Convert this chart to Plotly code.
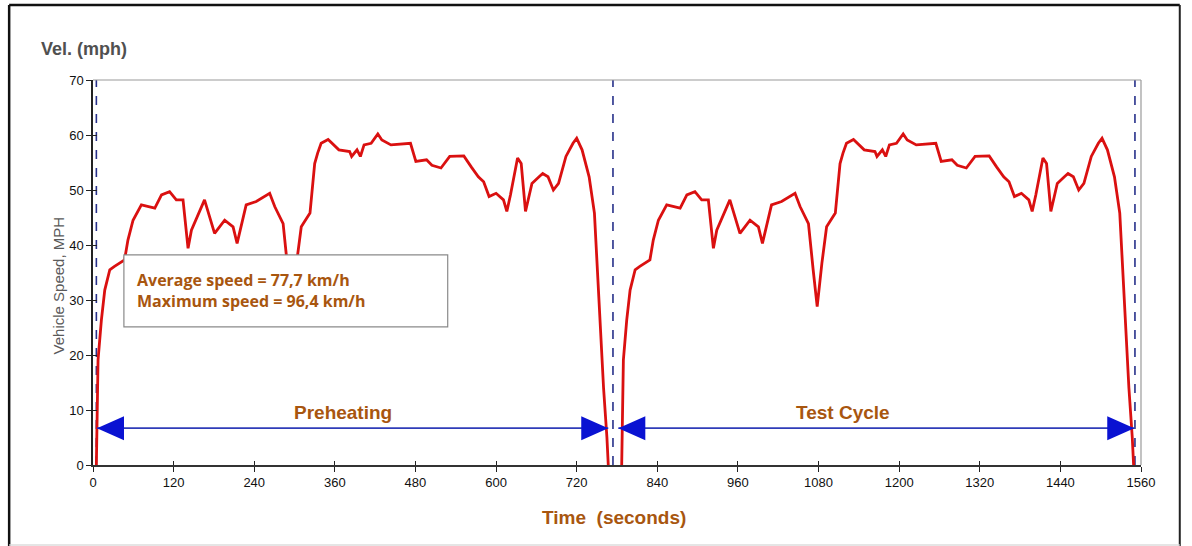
import plotly.graph_objects as go

# ---- data: one HWFET-like speed cycle (relative seconds, mph), driven twice ----
cycle_t = [0, 2, 4.5, 9.5, 14.5, 22, 29, 44, 49, 56.6, 69, 89, 99, 111, 121, 131, 138.5, 143.5,
           163, 178, 193, 205.5, 211.5, 225, 240, 260, 267.5, 280, 287, 293, 300, 307, 320, 327,
           331.4, 336.6, 347, 363, 379, 382, 390, 395, 400.5, 411, 421, 427, 440.5, 469.6, 477.6,
           493.5, 501.5, 515, 528, 549, 560, 570.6, 578.5, 586.6, 597, 608, 613, 618.4, 629,
           634.4, 640.8, 650.4, 661, 666.4, 674.3, 682.3, 690, 701, 711.5, 717, 725, 735.5,
           743.4, 747, 751.4, 757, 762, 764]
cycle_v = [0, 0, 19.1, 26.4, 31.8, 35.5, 36.1, 37.3, 40.9, 44.5, 47.3, 46.7, 49.1, 49.7, 48.2, 48.2,
           39.4, 42.7, 48.2, 42.1, 44.5, 43.3, 40.3, 47.3, 47.9, 49.4, 47.0, 43.9, 35.5, 28.8,
           36.7, 43.3, 45.8, 54.8, 56.7, 58.5, 59.2, 57.3, 57.0, 56.1, 57.3, 56.1, 58.2, 58.5,
           60.2, 59.1, 58.2, 58.5, 55.2, 55.5, 54.5, 54.0, 56.1, 56.2, 54.2, 52.4, 51.5, 48.8,
           49.4, 48.2, 46.1, 49.1, 55.8, 54.8, 46.1, 51.2, 52.4, 53.0, 52.4, 50.0, 51.2, 56.1,
           58.5, 59.4, 57.3, 52.4, 45.8, 37.3, 28.2, 14.0, 5.0, 0]
run_starts = [3, 785]          # s, start of preheating run and test-cycle run
run_names = ["Preheating", "Test Cycle"]

phase_bounds = [5, 774, 1551]          # dashed separators (s)
arrow_spans = [(6, 767), (782, 1550)]  # arrow tips (s)
arrow_speed = 6.7                      # mph
label_pos = [(372, 9.6), (1116, 9.6)]

x_ticks = list(range(0, 1561, 120))
y_ticks = list(range(0, 71, 10))

BROWN = "#A8560F"
NAVY = "#27308A"
BLUE = "#0A12D2"

fig = go.Figure()

for k, t0 in enumerate(run_starts):
    fig.add_trace(go.Scatter(
        x=[t0 + t for t in cycle_t], y=cycle_v, mode="lines",
        line=dict(color="#DA1010", width=2.8), name=run_names[k], showlegend=False,
        hoverinfo="skip"))

# invisible trace for the overlay axes (crossing tick marks)
fig.add_trace(go.Scatter(x=[0], y=[0], xaxis="x2", yaxis="y2", mode="markers",
                         marker=dict(opacity=0), showlegend=False, hoverinfo="skip"))

shapes = []
for b in phase_bounds:
    shapes.append(dict(type="line", x0=b, x1=b, y0=0, y1=70, xref="x", yref="y",
                       line=dict(color=NAVY, width=1.6, dash="dash"), layer="below"))
for a, b in arrow_spans:
    shapes.append(dict(type="line", x0=a, x1=b, y0=arrow_speed, y1=arrow_speed,
                       xref="x", yref="y", line=dict(color="#2F3CB8", width=1.6)))
    shapes.append(dict(type="path", xref="x", yref="y", xsizemode="pixel", ysizemode="pixel",
                       xanchor=a, yanchor=arrow_speed,
                       path="M0,0 L27,12 L27,-12 Z", fillcolor=BLUE, line=dict(width=0)))
    shapes.append(dict(type="path", xref="x", yref="y", xsizemode="pixel", ysizemode="pixel",
                       xanchor=b, yanchor=arrow_speed,
                       path="M0,0 L-27,12 L-27,-12 Z", fillcolor=BLUE, line=dict(width=0)))

# info box
shapes.append(dict(type="rect", xref="x", yref="y", x0=46, x1=528, y0=25.1, y1=38.2,
                   fillcolor="white", line=dict(color="#8A8A8A", width=1.2), layer="above"))
# outer frame
shapes.append(dict(type="line", xref="paper", yref="paper", x0=-0.080, x1=1.037, y0=1.195, y1=1.195,
                   line=dict(color="#111", width=2.5)))
shapes.append(dict(type="line", xref="paper", yref="paper", x0=-0.080, x1=-0.080, y0=-0.215, y1=1.195,
                   line=dict(color="#111", width=2.5)))
shapes.append(dict(type="line", xref="paper", yref="paper", x0=1.037, x1=1.037, y0=-0.215, y1=1.195,
                   line=dict(color="#222", width=2)))
shapes.append(dict(type="line", xref="paper", yref="paper", x0=-0.080, x1=1.037, y0=-0.208, y1=-0.208,
                   line=dict(color="#DDDDDD", width=1.5)))

annotations = []
for (lx, ly), name in zip(label_pos, run_names):
    annotations.append(dict(x=lx, y=ly, xref="x", yref="y", text=f"<b>{name}</b>", showarrow=False,
                            font=dict(family="Liberation Sans, Arial", size=19, color=BROWN)))
annotations.append(dict(x=62, y=31.7, xref="x", yref="y", xanchor="left", yanchor="middle",
                        align="left", showarrow=False,
                        text="<b>Average speed = 77,7 km/h</b><br><b>Maximum speed = 96,4 km/h</b>",
                        font=dict(family="Open Sans", size=16, color=BROWN)))
annotations.append(dict(x=0.497, y=-0.169, xref="paper", yref="paper", showarrow=False,
                        text="<b>Time  (seconds)</b>",
                        font=dict(family="Liberation Sans, Arial", size=19, color=BROWN)))
annotations.append(dict(x=-0.0515, y=1.112, xref="paper", yref="paper", xanchor="left",
                        showarrow=False, text="<b>Vel. (mph)</b>",
                        font=dict(family="Liberation Sans, Arial", size=18, color="#505050")))
annotations.append(dict(x=-0.043, y=0.4675, xref="paper", yref="paper", textangle=-90,
                        showarrow=False, text="Vehicle Speed, MPH",
                        font=dict(family="Liberation Sans, Arial", size=15, color="#5A5A5A")))

axis_font = dict(family="Liberation Sans, Arial", size=13, color="#111")
fig.update_layout(
    width=1192, height=546,
    margin=dict(l=93, r=51, t=80, b=81),
    paper_bgcolor="white", plot_bgcolor="white",
    showlegend=False,
    xaxis=dict(range=[0, 1560], tickvals=x_ticks, ticks="outside", ticklen=5, tickwidth=1.2,
               tickcolor="#222", showgrid=False, zeroline=False, showline=True, linecolor="#333",
               linewidth=1.5, mirror=False, tickfont=axis_font),
    yaxis=dict(range=[0, 70], tickvals=y_ticks, ticks="outside", ticklen=5, tickwidth=1.2,
               tickcolor="#222", showgrid=False, zeroline=False, showline=True, linecolor="#222",
               linewidth=1.5, tickfont=axis_font),
    xaxis2=dict(range=[0, 1560], tickvals=x_ticks, ticks="inside", ticklen=4, tickwidth=1.2,
                tickcolor="#222", showticklabels=False, showgrid=False, zeroline=False,
                overlaying="x", anchor="y2", side="bottom", showline=False),
    yaxis2=dict(range=[0, 70], tickvals=y_ticks, ticks="inside", ticklen=4, tickwidth=1.2,
                tickcolor="#222", showticklabels=False, showgrid=False, zeroline=False,
                overlaying="y", anchor="x2", side="left", showline=False),
    shapes=shapes, annotations=annotations,
)
fig.add_shape(type="line", xref="paper", yref="paper", x0=0, x1=1, y0=1, y1=1,
              line=dict(color="#9A9A9A", width=1.2))
fig.add_shape(type="line", xref="paper", yref="paper", x0=1, x1=1, y0=0, y1=1,
              line=dict(color="#9A9A9A", width=1.2))

fig.write_html("out.html", config={"displayModeBar": False},
               post_script="document.body.style.margin='0';document.body.style.overflow='hidden';")
